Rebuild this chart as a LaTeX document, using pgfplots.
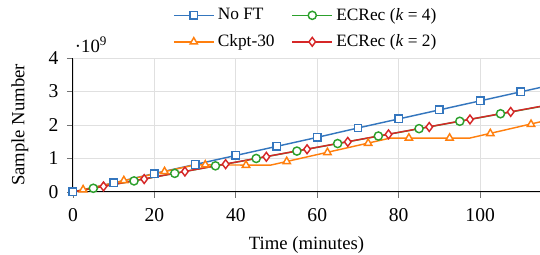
\documentclass[border=0pt]{standalone}
\usepackage{fontspec}
\setmainfont{Liberation Serif}
\usepackage{pgfplots}
\pgfplotsset{compat=1.18}
\definecolor{cblue}{RGB}{52,118,190}
\definecolor{corange}{RGB}{255,127,14}
\definecolor{cgreen}{RGB}{44,160,44}
\definecolor{cred}{RGB}{214,39,40}
\begin{document}
\begin{tikzpicture}
\begin{axis}[
  name=ax,
  scale only axis,
  width=274.7pt, height=78.8pt,
  xmin=0, xmax=114.7, ymin=0, ymax=4,
  xtick={0,20,40,60,80,100},
  ytick={0,1,2,3,4},
  axis x line*=bottom, axis y line*=left,
  axis line style={-, black, line width=0.6pt},
  tick align=outside, major tick length=3.5pt,
  tick style={black!55, line width=0.5pt},
  grid=major, grid style={black!12, line width=0.5pt},
  /pgf/number format/assume math mode=true,
  ticklabel style={font=\fontsize{11.5}{13}\selectfont},
  xticklabel style={yshift=-2.5pt},
  yticklabel style={xshift=-1.5pt},
  xlabel={Time (minutes)}, ylabel={Sample Number},
  label style={font=\fontsize{11}{13}\selectfont},
  xlabel style={yshift=-2pt},
  ylabel style={yshift=5pt},
  clip mode=global,
  legend columns=2,
  legend style={draw=none, fill=none, at={(0.5,1.0)}, anchor=south, yshift=1pt,
    font=\fontsize{10.2}{12}\selectfont,
    /tikz/every even column/.append style={column sep=8pt},
    row sep=3pt},
  legend cell align=left,
  legend image code/.code={\draw[mark repeat=2,mark phase=2] plot coordinates {(0pt,0pt)(11.7pt,0pt)(23.4pt,0pt)};},
]
% No FT
\addplot[cblue, line width=0.85pt, forget plot] coordinates {(0,0)(10,0.27)(20,0.55)(30,0.82)(40,1.09)(50,1.36)(60,1.63)(70,1.91)(80,2.18)(90,2.45)(100,2.72)(110,2.99)(120,3.26)};
\addplot[cblue, only marks, mark=square*, mark size=2.2pt, mark options={fill=white, line width=0.85pt}, forget plot] coordinates {(0,0)(10,0.27)(20,0.55)(30,0.82)(40,1.09)(50,1.36)(60,1.63)(70,1.91)(80,2.18)(90,2.45)(100,2.72)(110,2.99)};
% Ckpt-30
\addplot[corange, line width=0.85pt, forget plot] coordinates {(0,0)(30,0.81)(48.5,0.80)(78,1.61)(97.5,1.61)(120,2.24)};
\addplot[corange, only marks, mark=triangle*, mark size=2.5pt, mark options={fill=white, line width=0.85pt}, forget plot] coordinates {(2.5,0.068)(12.5,0.34)(22.5,0.61)(32.5,0.81)(42.5,0.80)(52.5,0.91)(62.5,1.18)(72.5,1.455)(82.5,1.61)(92.5,1.61)(102.5,1.745)(112.5,2.02)};
% ECRec k=4
\addplot[cgreen, line width=0.85pt, forget plot] coordinates {(0,0)(120,2.665)};
\addplot[cgreen, only marks, mark=*, mark size=2.4pt, mark options={fill=white, line width=0.85pt}, forget plot] coordinates {(5,0.11)(15,0.33)(25,0.555)(35,0.78)(45,1.0)(55,1.22)(65,1.445)(75,1.67)(85,1.89)(95,2.11)(105,2.335)(115,2.555)};
% ECRec k=2
\addplot[cred, line width=0.85pt, forget plot] coordinates {(0,0)(120,2.67)};
\addplot[cred, only marks, mark=diamond*, mark size=2.6pt, mark options={fill=white, line width=0.85pt}, forget plot] coordinates {(7.5,0.165)(17.5,0.385)(27.5,0.61)(37.5,0.83)(47.5,1.05)(57.5,1.275)(67.5,1.495)(77.5,1.72)(87.5,1.94)(97.5,2.165)(107.5,2.39)(117.5,2.61)};
% legend
\addlegendimage{cblue, line width=0.85pt, mark=square*, mark size=2.2pt, mark options={fill=white}}
\addlegendentry{No FT}
\addlegendimage{cgreen, line width=0.85pt, mark=*, mark size=2.4pt, mark options={fill=white}}
\addlegendentry{ECRec (\textit{k} = 4)}
\addlegendimage{corange, line width=0.85pt, mark=triangle*, mark size=2.5pt, mark options={fill=white}}
\addlegendentry{Ckpt-30}
\addlegendimage{cred, line width=0.85pt, mark=diamond*, mark size=2.6pt, mark options={fill=white}}
\addlegendentry{ECRec (\textit{k} = 2)}
\end{axis}
\node[anchor=south west, inner sep=0pt, font=\fontsize{11}{13}\selectfont] at ([xshift=1pt,yshift=3pt]ax.north west) {·10\textsuperscript{9}};
\pgfresetboundingbox
\path ([xshift=-42.9pt,yshift=-36.5pt]ax.south west) rectangle ([yshift=34.1pt]ax.north east);
\end{tikzpicture}
\end{document}
